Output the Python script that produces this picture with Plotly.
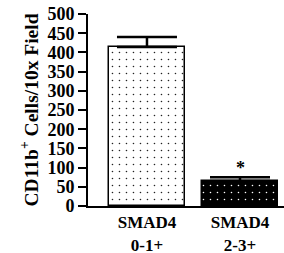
import plotly.graph_objects as go

categories = ["SMAD4 0-1+", "SMAD4 2-3+"]
tick_labels = ["<b>SMAD4</b><br><b>0-1+</b>", "<b>SMAD4</b><br><b>2-3+</b>"]
values = [414, 65]
errors = [26, 10]
bar_colors = ["white", "black"]
dot_colors = ["#222222", "white"]
y_ticks = [0, 50, 100, 150, 200, 250, 300, 350, 400, 450, 500]

fig = go.Figure()
for i in range(2):
    fig.add_trace(go.Bar(
        x=[categories[i]], y=[values[i]],
        width=0.82,
        marker=dict(color=bar_colors[i], line=dict(color="black", width=1.5),
                    pattern=dict(shape=".", fgcolor=dot_colors[i], bgcolor=bar_colors[i],
                                 size=7, solidity=0.04, fillmode="replace")),
        error_y=dict(type="data", symmetric=False, array=[errors[i]], arrayminus=[0],
                     color="black", thickness=2.5, width=30),
        showlegend=False,
    ))

fig.add_annotation(x=categories[1], y=values[1] + errors[1], text="<b>*</b>",
                   showarrow=False, yanchor="bottom", yshift=-3,
                   font=dict(family="Liberation Serif", size=18, color="black"))

fig.update_layout(
    width=284, height=253,
    margin=dict(l=88, r=0, t=14, b=47),
    plot_bgcolor="white", paper_bgcolor="white",
    font=dict(family="Liberation Serif", color="black"),
    xaxis=dict(range=[-0.634, 1.473], showline=True, linecolor="black", linewidth=2,
               ticks="", tickvals=categories, ticktext=tick_labels, automargin=False,
               tickfont=dict(family="Liberation Serif", size=17, color="black"),
               showgrid=False, zeroline=False),
    yaxis=dict(range=[0, 500], tickvals=y_ticks, ticktext=[f"<b>{v}</b>" for v in y_ticks],
               showline=True, linecolor="black", linewidth=2, automargin=False,
               ticks="outside", ticklen=8, tickwidth=2, tickcolor="black",
               tickfont=dict(family="Liberation Serif", size=18, color="black"),
               showgrid=False, zeroline=False,
               title=dict(text="<b>CD11b<sup>+</sup> Cells/10x Field</b>", standoff=4,
                          font=dict(family="Liberation Serif", size=19.5, color="black"))),
    bargap=0,
)

fig.write_html("out.html", config={"displayModeBar": False},
               post_script="document.body.style.margin='0px';")
